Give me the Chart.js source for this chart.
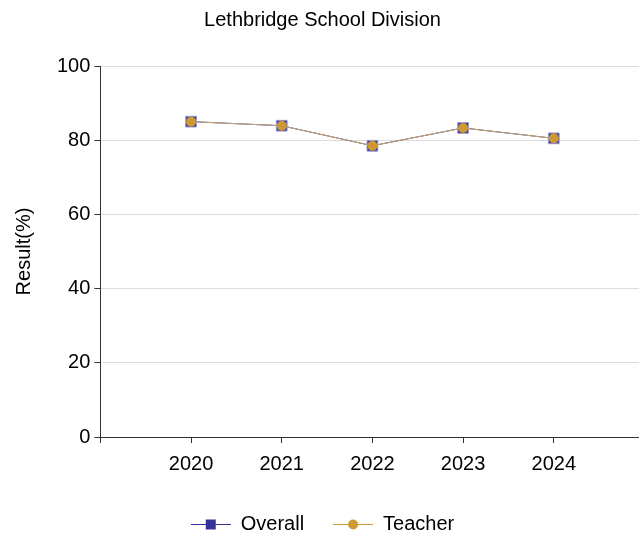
<!DOCTYPE html>
<html>
<head>
<meta charset="utf-8">
<script src="https://cdn.jsdelivr.net/npm/chart.js@4/dist/chart.umd.min.js"></script>
<style>
  html, body { margin: 0; padding: 0; background: #fff; }
  #wrap { width: 639px; height: 534px; }
</style>
</head>
<body>
<div id="wrap"><canvas id="resultChart" width="639" height="534"></canvas></div>
<script>
var years = [2020, 2021, 2022, 2023, 2024];
var overallValues = [85.0, 83.9, 78.5, 83.3, 80.5];
var teacherValues = [85.0, 83.9, 78.5, 83.3, 80.5];
var xTickValues = [2019, 2020, 2021, 2022, 2023, 2024];
var yTickValues = [0, 20, 40, 60, 80, 100];

var blue = '#333399';
var gold = '#cc9933';
var fontName = 'Liberation Sans';

// little legend swatch: a line with the marker in the middle
var makeSwatch = function(color, lineColor, shape) {
  var c = document.createElement('canvas');
  c.width = 40; c.height = 12;
  var g = c.getContext('2d');
  g.strokeStyle = lineColor;
  g.lineWidth = 1.2;
  g.beginPath(); g.moveTo(0, 6.5); g.lineTo(40, 6.5); g.stroke();
  g.fillStyle = color;
  if (shape === 'rect') {
    g.fillRect(15, 1.5, 10, 10);
  } else {
    g.beginPath(); g.arc(20, 6.5, 5, 0, Math.PI * 2); g.fill();
  }
  return c;
};

var toPoints = function(vals) {
  var pts = [];
  for (var i = 0; i < years.length; i++) pts.push({x: years[i], y: vals[i]});
  return pts;
};

var swatches = [makeSwatch(blue, blue, 'rect'), makeSwatch(gold, gold, 'circle')];

var ctx = document.getElementById('resultChart').getContext('2d');
var chart = new Chart(ctx, {
  type: 'line',
  data: {
    datasets: [{
      label: 'Overall',
      data: toPoints(overallValues),
      order: 2,
      borderColor: blue,
      backgroundColor: blue,
      borderWidth: 1,
      pointStyle: 'rect',
      pointRadius: 7.6,
      pointBorderColor: '#9a9ad6',
      pointBorderWidth: 1
    }, {
      label: 'Teacher',
      data: toPoints(teacherValues),
      order: 1,
      borderColor: '#c9a66b',
      backgroundColor: gold,
      borderWidth: 1,
      pointStyle: 'circle',
      pointRadius: 5,
      pointBorderColor: gold,
      pointBorderWidth: 0
    }]
  },
  options: {
    responsive: false,
    animation: false,
    layout: { autoPadding: false, padding: { left: 6, right: 0, top: 0, bottom: -10 } },
    plugins: {
      title: {
        display: true,
        text: 'Lethbridge School Division',
        color: '#000',
        font: { family: fontName, size: 20, weight: 'normal' },
        padding: { top: 8, bottom: 34 }
      },
      legend: {
        position: 'bottom',
        labels: {
          color: '#000',
          font: { family: fontName, size: 20 },
          usePointStyle: true,
          pointStyleWidth: 40,
          padding: 29,
          generateLabels: function(ch) {
            return ch.data.datasets.map(function(ds, i) {
              return {
                text: ds.label,
                datasetIndex: i,
                pointStyle: swatches[i],
                fillStyle: ds.backgroundColor,
                strokeStyle: ds.borderColor,
                lineWidth: 0,
                fontColor: '#000'
              };
            });
          }
        }
      },
      tooltip: { enabled: false }
    },
    scales: {
      x: {
        type: 'linear',
        min: 2019,
        max: 2024.94,
        afterBuildTicks: function(scale) {
          scale.ticks = xTickValues.map(function(v) { return {value: v}; });
        },
        ticks: {
          color: '#000',
          font: { family: fontName, size: 20 },
          padding: 9,
          maxRotation: 0,
          callback: function(v) { return v === 2019 ? '' : String(v); }
        },
        grid: { drawOnChartArea: false, tickLength: 6, tickColor: '#333' },
        border: { display: true, color: '#333', width: 1 }
      },
      y: {
        min: 0,
        max: 100,
        afterBuildTicks: function(scale) {
          scale.ticks = yTickValues.map(function(v) { return {value: v}; });
        },
        ticks: {
          color: '#000',
          font: { family: fontName, size: 20 },
          padding: 4
        },
        grid: { color: '#dcdcdc', tickLength: 6, tickColor: '#333' },
        border: { display: true, color: '#333', width: 1 },
        title: {
          display: true,
          text: 'Result(%)',
          color: '#000',
          font: { family: fontName, size: 20 },
          padding: { top: 6, bottom: 17 }
        }
      }
    }
  }
});
</script>
</body>
</html>
